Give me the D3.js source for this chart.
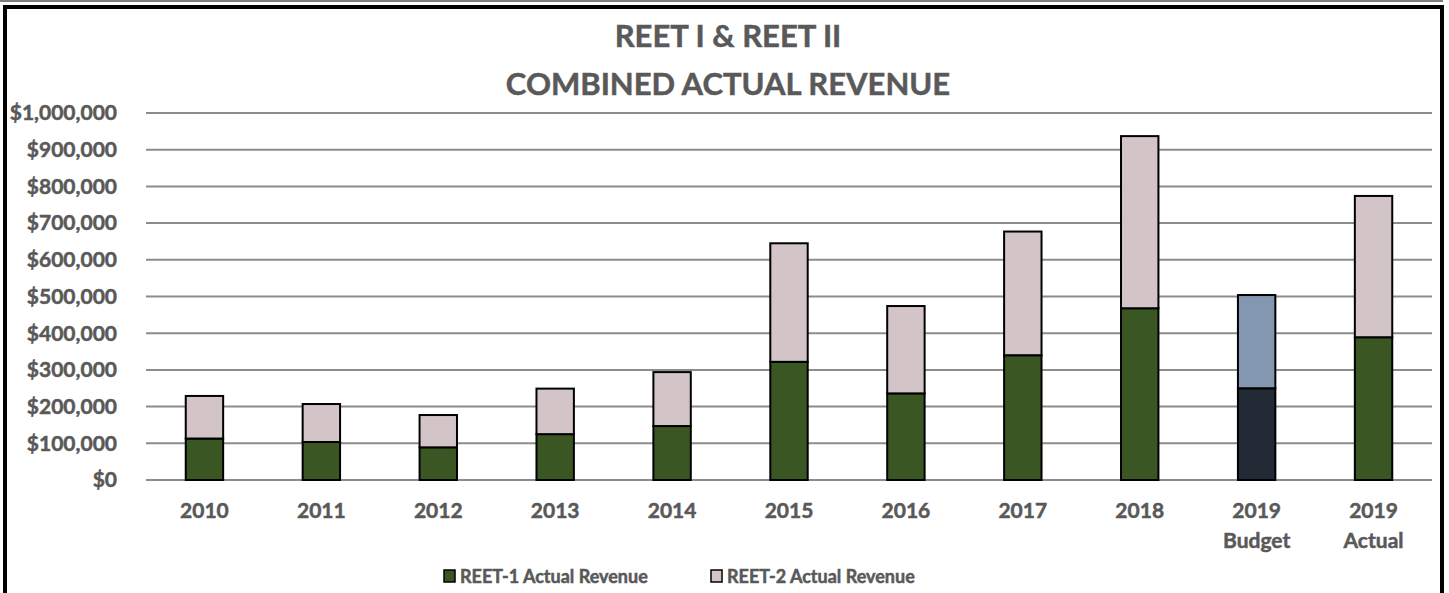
<!DOCTYPE html>
<html>
<head>
<meta charset="utf-8">
<script src="https://cdn.jsdelivr.net/npm/d3@7"></script>
<style>
  body { margin: 0; background: #fff; }
  svg text { font-family: Lato, "Open Sans", sans-serif; font-weight: bold; fill: #595959; stroke: #595959; stroke-width: 0.5px; }
</style>
</head>
<body>
<script>
// chart data
var categories = ["2010", "2011", "2012", "2013", "2014", "2015", "2016", "2017", "2018", "2019 Budget", "2019 Actual"];
var reet1 = [113000, 103500, 89000, 125000, 147000, 322000, 236000, 340000, 468000, 250000, 389000];
var reet2 = [116000, 103500, 88000, 124000, 147000, 323000, 238000, 337000, 469000, 254000, 385000];
var yTicks = [0, 100000, 200000, 300000, 400000, 500000, 600000, 700000, 800000, 900000, 1000000];
var seriesNames = ["REET-1 Actual Revenue", "REET-2 Actual Revenue"];
var budgetCat = "2019 Budget";

var W = 1449, H = 593;
var margin = {top: 113, right: 17, bottom: 113, left: 146};

var colors = ["#3a5622", "#d3c5c7"];
var budgetColors = ["#222a35", "#8497b0"];

var svg = d3.select("body").append("svg")
    .attr("width", W)
    .attr("height", H);

// outer frame
svg.append("line")
    .attr("x1", 0).attr("x2", 1443).attr("y1", 1).attr("y2", 1)
    .attr("stroke", "#555").attr("stroke-width", 1.5);
svg.append("rect")
    .attr("x", 5).attr("y", 7)
    .attr("width", 1437).attr("height", 620)
    .attr("fill", "none").attr("stroke", "#000").attr("stroke-width", 4);

var x = d3.scaleBand()
    .domain(categories)
    .range([margin.left, W - margin.right])
    .paddingInner(0.68)
    .paddingOuter(0.34);

var y = d3.scaleLinear()
    .domain([0, 1000000])
    .range([H - margin.bottom, margin.top]);

// title
svg.append("text")
    .attr("x", 728).attr("y", 47)
    .attr("text-anchor", "middle")
    .style("font-size", "31px")
    .text("REET I & REET II");
svg.append("text")
    .attr("x", 728).attr("y", 95)
    .attr("text-anchor", "middle")
    .style("font-size", "31px")
    .text("COMBINED ACTUAL REVENUE");

// gridlines
svg.append("g")
  .selectAll("line")
  .data(yTicks)
  .enter().append("line")
    .attr("x1", margin.left).attr("x2", W - margin.right)
    .attr("y1", function(d) { return y(d); })
    .attr("y2", function(d) { return y(d); })
    .attr("stroke", "#8c8c8c")
    .attr("stroke-width", 2);

// y axis labels
var fmt = d3.format("$,");
svg.append("g")
  .selectAll("text")
  .data(yTicks)
  .enter().append("text")
    .attr("x", 117)
    .attr("y", function(d) { return y(d); })
    .attr("dy", "0.35em")
    .attr("text-anchor", "end")
    .style("font-size", "21px")
    .text(function(d) { return fmt(d); });

// stacked bars
var table = categories.map(function(c, i) {
  return {cat: c, r1: reet1[i], r2: reet2[i]};
});
var stack = d3.stack().keys(["r1", "r2"])(table);

svg.append("g")
  .selectAll("g")
  .data(stack)
  .enter().append("g")
  .each(function(layer, li) {
    d3.select(this).selectAll("rect")
      .data(layer)
      .enter().append("rect")
        .attr("x", function(d) { return x(d.data.cat); })
        .attr("width", x.bandwidth())
        .attr("y", function(d) { return y(d[1]); })
        .attr("height", function(d) { return y(d[0]) - y(d[1]); })
        .attr("fill", function(d) { return d.data.cat === budgetCat ? budgetColors[li] : colors[li]; })
        .attr("stroke", "#000")
        .attr("stroke-width", 2);
  });

// x labels
var xl = svg.append("g")
  .selectAll("text")
  .data(categories)
  .enter().append("text")
    .attr("x", function(d) { return x(d) + x.bandwidth() / 2; })
    .attr("y", 518)
    .attr("text-anchor", "middle")
    .style("font-size", "21px");
xl.each(function(d) {
  var parts = d.split(" ");
  var t = d3.select(this);
  parts.forEach(function(p, i) {
    t.append("tspan")
      .attr("x", x(d) + x.bandwidth() / 2)
      .attr("dy", i === 0 ? 0 : 30)
      .text(p);
  });
});

// legend
var legendX = [444, 711];
var lg = svg.append("g")
  .selectAll("g")
  .data(seriesNames)
  .enter().append("g")
    .attr("transform", function(d, i) { return "translate(" + legendX[i] + ",570)"; });
lg.append("rect")
    .attr("width", 11).attr("height", 12)
    .attr("fill", function(d, i) { return colors[i]; })
    .attr("stroke", "#000").attr("stroke-width", 1.5);
lg.append("text")
    .attr("x", 16).attr("y", 13)
    .style("font-size", "18px")
    .text(function(d) { return d; });
</script>
</body>
</html>
